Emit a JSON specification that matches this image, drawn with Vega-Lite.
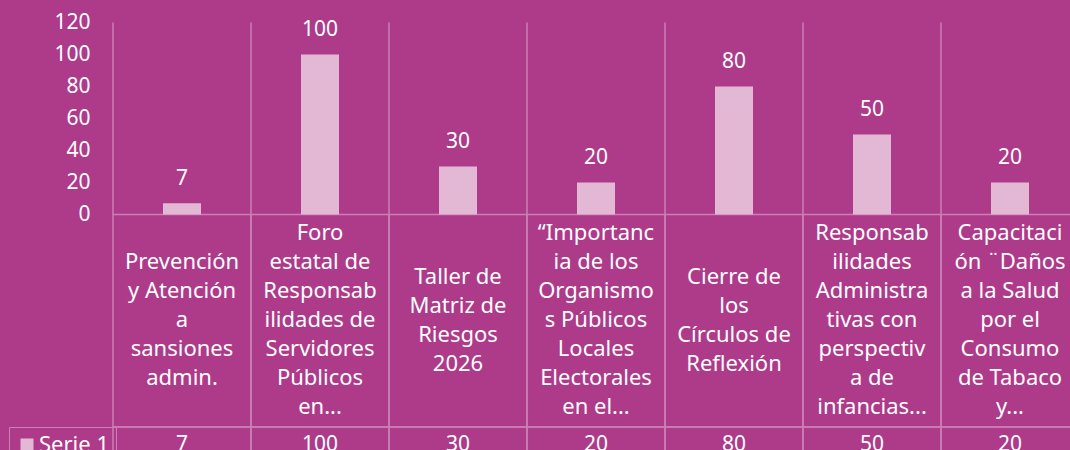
{
  "$schema": "https://vega.github.io/schema/vega-lite/v6.json",
  "width": 957,
  "height": 450,
  "autosize": {"type": "none"},
  "padding": {"left": 113, "top": 0, "right": 0, "bottom": 0},
  "background": "#AE3A8A",
  "config": {
    "view": {"stroke": null},
    "font": "Noto Sans",
    "axisY": {"domain": false, "ticks": false, "tickSize": 0, "grid": false, "labelPadding": 23,
              "labelFontSize": 21, "labelColor": "#FFFFFF", "labelFont": "Noto Sans", "title": null}
  },
  "data": {
    "values": [
      {"actividad": "Prevención\ny Atención\na\nsansiones\nadmin.", "valor": 7},
      {"actividad": "Foro\nestatal de\nResponsab\nilidades de\nServidores\nPúblicos\nen...", "valor": 100},
      {"actividad": "Taller de\nMatriz de\nRiesgos\n2026", "valor": 30},
      {"actividad": "“Importanc\nia de los\nOrganismo\ns Públicos\nLocales\nElectorales\nen el...", "valor": 20},
      {"actividad": "Cierre de\nlos\nCírculos de\nReflexión", "valor": 80},
      {"actividad": "Responsab\nilidades\nAdministra\ntivas con\nperspectiv\na de\ninfancias...", "valor": 50},
      {"actividad": "Capacitaci\nón ¨Daños\na la Salud\npor el\nConsumo\nde Tabaco\ny...", "valor": 20}
    ]
  },
  "layer": [
    {
      "mark": {"type": "rule", "stroke": "#CB7FB6", "strokeWidth": 1.5},
      "encoding": {
        "x": {"field": "actividad", "type": "nominal", "sort": null, "bandPosition": 0,
              "scale": {"range": [0, 966], "paddingInner": 0, "paddingOuter": 0}, "axis": null},
        "y": {"datum": 120, "type": "quantitative", "axis": {"values": [0, 20, 40, 60, 80, 100, 120], "title": null}},
        "y2": {"datum": 0}
      }
    },
    {
      "mark": {"type": "bar", "fill": "transparent", "stroke": "#CB7FB6", "strokeWidth": 1.5, "width": {"band": 1}},
      "encoding": {
        "x": {"field": "actividad", "type": "nominal", "sort": null, "axis": null},
        "y": {"datum": 0, "type": "quantitative", "axis": {"values": [0, 20, 40, 60, 80, 100, 120], "title": null}},
        "y2": {"datum": -132.8}
      }
    },
    {
      "mark": {"type": "bar", "fill": "transparent", "stroke": "#CB7FB6", "strokeWidth": 1.5, "width": {"band": 1}},
      "encoding": {
        "x": {"field": "actividad", "type": "nominal", "sort": null, "axis": null},
        "y": {"datum": -132.8, "type": "quantitative", "axis": {"values": [0, 20, 40, 60, 80, 100, 120], "title": null}},
        "y2": {"datum": -170}
      }
    },
    {
      "mark": {"type": "bar", "width": 38},
      "encoding": {
        "x": {"field": "actividad", "type": "nominal", "sort": null, "axis": null},
        "y": {"field": "valor", "type": "quantitative",
              "scale": {"domain": [-147.19, 134.06], "nice": false, "zero": false},
              "axis": {"values": [0, 20, 40, 60, 80, 100, 120], "title": null}},
        "color": {"datum": "Serie 1", "type": "nominal",
                  "scale": {"range": ["#E2B8D5"]},
                  "legend": {"orient": "none", "legendX": -104, "legendY": 427, "title": null,
                             "padding": 7, "strokeColor": "#CB7FB6",
                             "symbolType": "square", "symbolSize": 169, "symbolStrokeWidth": 0,
                             "labelFontSize": 22, "labelColor": "#FFFFFF", "labelFont": "Noto Sans",
                             "labelOffset": 1}}
      }
    },
    {
      "mark": {"type": "text", "dy": -24, "baseline": "middle", "align": "center", "fontSize": 21, "color": "#FFFFFF"},
      "encoding": {
        "x": {"field": "actividad", "type": "nominal", "sort": null, "axis": null},
        "y": {"field": "valor", "type": "quantitative", "axis": {"values": [0, 20, 40, 60, 80, 100, 120], "title": null}},
        "text": {"field": "valor", "type": "quantitative"}
      }
    },
    {
      "mark": {"type": "text", "baseline": "middle", "align": "center", "fontSize": 22, "lineBreak": "\n", "lineHeight": 29, "color": "#FFFFFF",
               "dy": {"expr": "-(length(split(datum.actividad, '\\n')) - 1) * 14.5"}},
      "encoding": {
        "x": {"field": "actividad", "type": "nominal", "sort": null, "axis": null},
        "y": {"datum": -66.25, "type": "quantitative", "axis": {"values": [0, 20, 40, 60, 80, 100, 120], "title": null}},
        "text": {"field": "actividad", "type": "nominal"}
      }
    },
    {
      "mark": {"type": "text", "baseline": "middle", "align": "center", "fontSize": 21, "color": "#FFFFFF"},
      "encoding": {
        "x": {"field": "actividad", "type": "nominal", "sort": null, "axis": null},
        "y": {"datum": -144, "type": "quantitative", "axis": {"values": [0, 20, 40, 60, 80, 100, 120], "title": null}},
        "text": {"field": "valor", "type": "quantitative"}
      }
    }
  ]
}
